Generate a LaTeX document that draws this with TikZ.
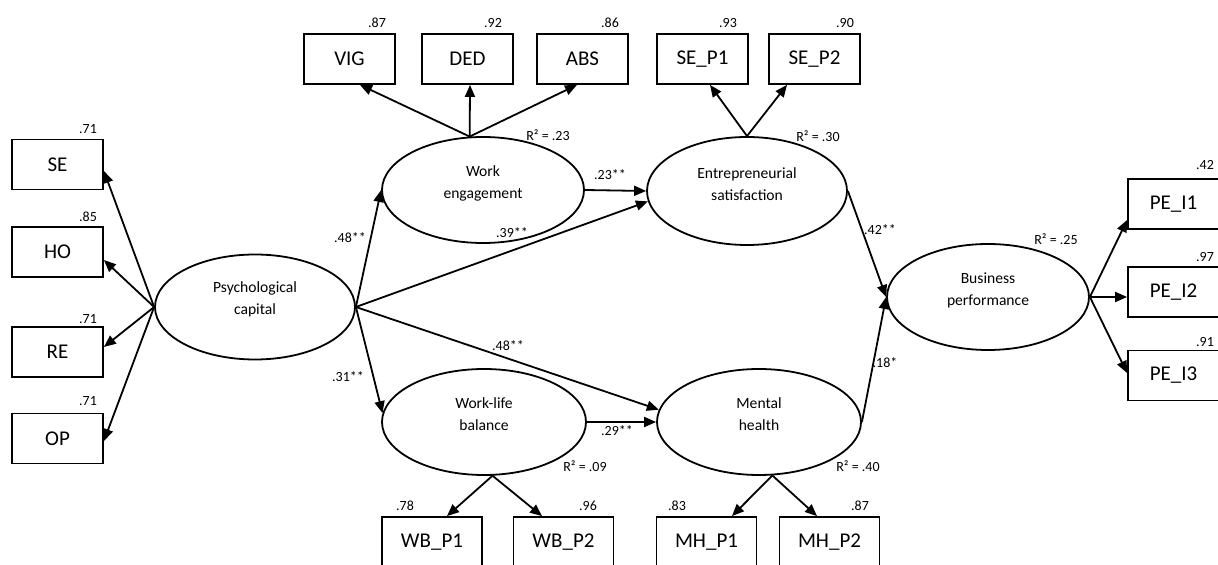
\documentclass[tikz,border=0pt]{standalone}
\usepackage{fontspec}
\setmainfont{Carlito}
\usetikzlibrary{arrows.meta,calc,shapes.geometric}
\begin{document}
\begin{tikzpicture}[x=0.5pt,y=-0.5pt,
 obs/.style={draw,line width=0.9pt,minimum width=45.5pt,minimum height=25pt,inner sep=0pt,font=\fontsize{10.5}{12}\selectfont},
 obsw/.style={obs,minimum width=50pt},
 lat/.style={draw,ellipse,line width=0.9pt,inner sep=0pt,minimum width=101pt,minimum height=53pt},
 lattxt/.style={align=center,inner sep=0pt,font=\fontsize{7.8}{11}\selectfont},
 val/.style={inner sep=0pt,font=\fontsize{7}{8}\selectfont},
 arr/.style={line width=0.9pt,-{Triangle[length=6pt,width=5pt]}},
]
\useasboundingbox (0,0) rectangle (1218,565);
\clip (0,0) rectangle (1218,565);

% observed indicators
\node[obs] (se) at (57.5,164.5) {SE};
\node[obs] (ho) at (57.5,252) {HO};
\node[obs] (re) at (57.5,352) {RE};
\node[obs] (op) at (57.5,438.5) {OP};
\node[obs] (vig) at (349.5,59) {VIG};
\node[obs] (ded) at (467.5,59) {DED};
\node[obs] (abs) at (582.5,59) {ABS};
\node[obs] (sep1) at (702.5,59) {SE\_P1};
\node[obs] (sep2) at (814.5,59) {SE\_P2};
\node[obsw] (wbp1) at (432,542) {WB\_P1};
\node[obsw] (wbp2) at (563.5,542) {WB\_P2};
\node[obsw] (mhp1) at (706.5,542) {MH\_P1};
\node[obsw] (mhp2) at (829.5,542) {MH\_P2};
\node[obs] (pe1) at (1173.5,204) {PE\_I1};
\node[obs] (pe2) at (1173.5,292) {PE\_I2};
\node[obs] (pe3) at (1173.5,375.5) {PE\_I3};

% latent variables
\node[lat,minimum width=100pt,minimum height=52.5pt] (psy) at (255,307) {};
\node[lattxt] (psyt) at ($(psy)+(0,-8)$) {Psychological\\capital};
\node[lat] (we) at (483,190) {};
\node[lattxt] (wet) at ($(we)+(0,-7)$) {Work\\engagement};
\node[lat,minimum width=100pt,minimum height=54pt] (es) at (747,191) {};
\node[lattxt] (est) at ($(es)+(0,-7)$) {Entrepreneurial\\satisfaction};
\node[lat,minimum width=102pt] (wlb) at (484,422) {};
\node[lattxt] (wlbt) at ($(wlb)+(0,-7.5)$) {Work-life\\balance};
\node[lat,minimum width=102pt] (mh) at (759,422) {};
\node[lattxt] (mht) at ($(mh)+(0,-7.5)$) {Mental\\health};
\node[lat] (bp) at (988,297) {};
\node[lattxt] (bpt) at ($(bp)+(0,-7)$) {Business\\performance};

% measurement arrows
\draw[arr] (psy.west) -- ($(se.east)+(0,6.5)$);
\draw[arr] (psy.west) -- ($(ho.east)+(0,8)$);
\draw[arr] (psy.west) -- ($(re.east)+(0,-5)$);
\draw[arr] (psy.west) -- ($(op.east)+(0,2.5)$);
\draw[arr] (we.104) -- ($(vig.south)+(10.5,0)$);
\draw[arr] (we.104) -- ($(ded.south)+(2.5,0)$);
\draw[arr] (we.104) -- ($(abs.south)+(-5.5,0)$);
\draw[arr] (es.north) -- ($(sep1.south)+(7.5,0)$);
\draw[arr] (es.north) -- ($(sep2.south)+(-27.5,0)$);
\draw[arr] (wlb.279) -- ($(wbp1.north)+(15,0)$);
\draw[arr] (wlb.279) -- ($(wbp2.north)+(-21.5,0)$);
\draw[arr] (mh.284) -- ($(mhp1.north)+(25.5,0)$);
\draw[arr] (mh.284) -- ($(mhp2.north)+(-12.5,0)$);
\draw[arr] (bp.east) -- ($(pe1.west)+(0,16)$);
\draw[arr] (bp.east) -- ($(pe2.west)+(0,5)$);
\draw[arr] (bp.east) -- ($(pe3.west)+(0,-2.5)$);

% structural arrows
\draw[arr] (psy.east) -- (we.west);
\draw[arr] (psy.east) -- (wlb.175);
\draw[arr] (psy.east) -- (es.186);
\draw[arr] (psy.east) -- (mh.173);
\draw[arr] (we.east) -- (es.west);
\draw[arr] (wlb.east) -- (mh.west);
\draw[arr] (es.east) -- (bp.west);
\draw[arr] (mh.east) -- (bp.west);

% loadings
\node[val] (vse) at (88,129) {.71};
\node[val] (vho) at (88,217) {.85};
\node[val] (vre) at (88,319) {.71};
\node[val] (vop) at (88,401) {.71};
\node[val] (vvig) at (377,23) {.87};
\node[val] (vded) at (493,23) {.92};
\node[val] (vabs) at (610,23) {.86};
\node[val] (vsep1) at (728,23) {.93};
\node[val] (vsep2) at (845,23) {.90};
\node[val] (vwbp1) at (405,506) {.78};
\node[val] (vwbp2) at (588,506) {.96};
\node[val] (vmhp1) at (677,506) {.83};
\node[val] (vmhp2) at (860,506) {.87};
\node[val] (vpe1) at (1205,165) {.42};
\node[val] (vpe2) at (1205,257) {.97};
\node[val] (vpe3) at (1205,342) {.91};

% R squared
\node[val] (rwe) at (548,135) {R² = .23};
\node[val] (res) at (818,136) {R² = .30};
\node[val] (rbp) at (1056,239) {R² = .25};
\node[val] (rwlb) at (585,466) {R² = .09};
\node[val] (rmh) at (858,466) {R² = .40};

% path coefficients
\node[val] (cwe) at (350,238) {.48**};
\node[val] (cwlb) at (348,377) {.31**};
\node[val] (ces) at (512,233) {.39**};
\node[val] (cwees) at (610,175) {.23**};
\node[val] (cmh) at (508,346) {.48**};
\node[val] (cwlbmh) at (617,431) {.29**};
\node[val] (cesbp) at (880,230) {.42**};
\node[val] (cmhbp) at (885,363) {.18*};
\end{tikzpicture}
\end{document}
